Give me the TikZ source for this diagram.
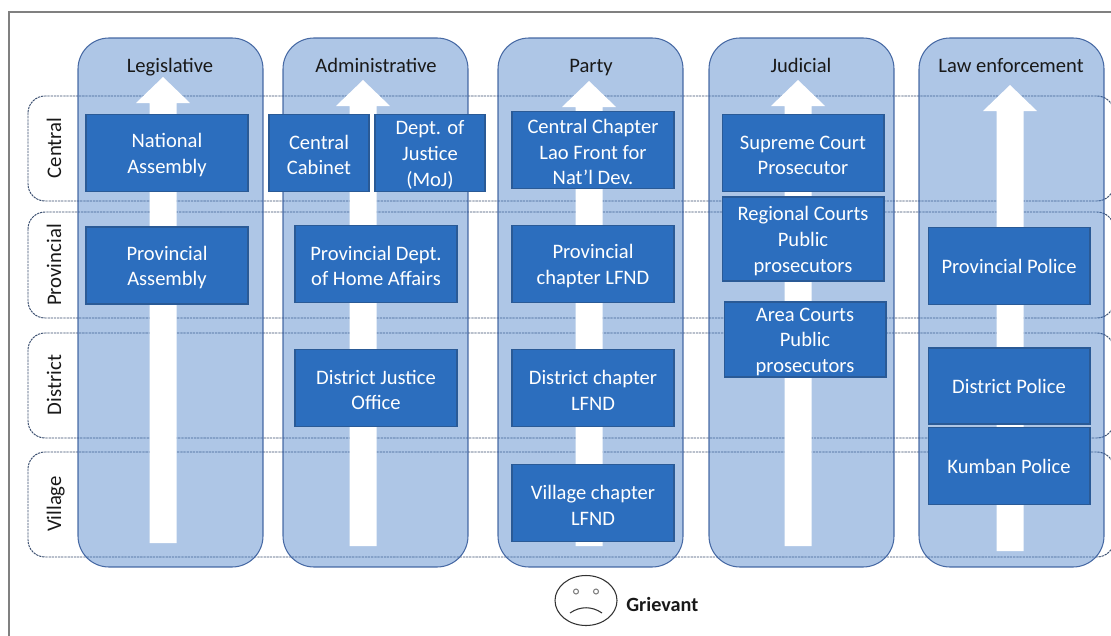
\documentclass[tikz,border=0pt]{standalone}
\usepackage{fontspec}
\setmainfont{Carlito}
\usepackage{tikz}
\usetikzlibrary{positioning}
\definecolor{pillarblue}{HTML}{3F78C4}
\definecolor{pillaredge}{HTML}{2F5597}
\definecolor{boxblue}{HTML}{2C6EBE}
\definecolor{boxedge}{HTML}{2A5A96}
\definecolor{rowedge}{HTML}{3B4F70}
\newcommand{\topgap}{\rule{0pt}{10.4pt}}
\tikzstyle{pillar} = [fill=pillarblue, fill opacity=0.42, draw=pillaredge, draw opacity=0.85, line width=0.6pt, rounded corners=0.62cm]
\tikzstyle{rowband} = [draw=rowedge, dash pattern=on 1.3pt off 0.5pt, line width=0.55pt, rounded corners=0.34cm]
\tikzstyle{uparrow} = [fill=white, draw=none]
\tikzstyle{orgbox} = [rectangle, fill=boxblue, draw=boxedge, line width=0.6pt, text=white, align=center, minimum width=3.24cm, minimum height=1.54cm, inner sep=0pt, font=\fontsize{11.7}{14.7}\selectfont]
\tikzstyle{pillarhead} = [anchor=base, text=black!90, font=\fontsize{11.7}{13}\selectfont]
\tikzstyle{rowlabel} = [rotate=90, anchor=base, text=black!90, font=\fontsize{11.8}{13}\selectfont]

\begin{document}
\begin{tikzpicture}[x=0.02cm, y=-0.02cm]
	\clip (0, 0) rectangle (1111, 635);
	\fill[white] (0, 0) rectangle (1111, 635);
	\draw[gray, line width=0.6pt] (1120, 12) -- (9, 12) -- (9, 640);
	% levels
	\draw[rowband] (28, 96) rectangle (1114, 201);
	\draw[rowband] (28, 212) rectangle (1114, 318);
	\draw[rowband] (28, 333) rectangle (1114, 438);
	\draw[rowband] (28, 452) rectangle (1114, 557);
	\node [rowlabel] (central) at (61, 148) {Central};
	\node [rowlabel] (provincial) at (61, 265) {Provincial};
	\node [rowlabel] (district) at (61, 385) {District};
	\node [rowlabel] (village) at (61, 504) {Village};
	% pillars
	\foreach \xl in {78, 283, 498, 709, 919} {
		\draw[pillar] (\xl, 38) rectangle (\xl+185, 567);
	}
	% arrows
	\foreach \xc/\ytip/\ybot in {163/77/543, 363/80/546, 589/81/546, 798/80/546, 1010/85/551} {
		\fill[uparrow] (\xc-13.5, \ybot) -- (\xc-13.5, \ytip+26) -- (\xc-27, \ytip+26) -- (\xc, \ytip) -- (\xc+27, \ytip+26) -- (\xc+13.5, \ytip+26) -- (\xc+13.5, \ybot) -- cycle;
	}
	\node [pillarhead] (legislative) at (170, 72.5) {Legislative};
	\node [pillarhead] (administrative) at (376, 72.5) {Administrative};
	\node [pillarhead] (party) at (591, 72.5) {Party};
	\node [pillarhead] (judicial) at (801, 72.5) {Judicial};
	\node [pillarhead] (lawenf) at (1011, 72.5) {Law enforcement};
	% legislative
	\node [orgbox] (natassembly) at (167, 153) {\topgap National\\Assembly};
	\node [orgbox] (provassembly) at (167, 265.5) {\topgap Provincial\\Assembly};
	% administrative
	\node [orgbox, minimum width=2cm] (cabinet) at (319, 153) {\topgap Central\\Cabinet};
	\node [orgbox, minimum width=2.2cm] (moj) at (430, 153) {\topgap Dept. of\\Justice\\(MoJ)};
	\node [orgbox] (provhome) at (376, 264) {\topgap Provincial Dept.\\of Home Affairs};
	\node [orgbox] (distjustice) at (376, 388) {\topgap District Justice\\Office};
	% party
	\node [orgbox] (centralfront) at (593, 150) {\topgap Central Chapter\\Lao Front for\\Nat'l Dev.};
	\node [orgbox] (provlfnd) at (593, 264) {\topgap Provincial\\chapter LFND};
	\node [orgbox] (distlfnd) at (593, 388) {\topgap District chapter\\LFND};
	\node [orgbox] (villlfnd) at (593, 503) {\topgap Village chapter\\LFND};
	% judicial
	\node [orgbox] (supreme) at (803, 153) {\topgap Supreme Court\\Prosecutor};
	\node [orgbox, minimum height=1.68cm] (regional) at (803, 239) {\topgap Regional Courts\\Public\\prosecutors};
	\node [orgbox, minimum height=1.5cm] (area) at (805, 339.5) {\topgap Area Courts\\Public\\prosecutors};
	% law enforcement
	\node [orgbox] (provpolice) at (1009, 266) {Provincial Police};
	\node [orgbox, minimum height=1.52cm] (distpolice) at (1009, 386) {District Police};
	\node [orgbox] (kumban) at (1009, 466) {Kumban Police};
	% grievant
	\draw[black!80, line width=0.6pt] (586, 600.5) ellipse [x radius=31, y radius=25];
	\draw[gray, line width=0.6pt] (576, 591.5) circle [radius=2.5];
	\draw[gray, line width=0.6pt] (596, 591.5) circle [radius=2.5];
	\draw[black!80, line width=0.6pt] (570, 613) .. controls (580, 606) and (592, 606) .. (602, 613);
	\node [anchor=west, inner sep=0pt, text=black!90, font=\fontsize{11.5}{13}\selectfont\bfseries] (grievant) at (626, 604.5) {Grievant};
\end{tikzpicture}
\end{document}
